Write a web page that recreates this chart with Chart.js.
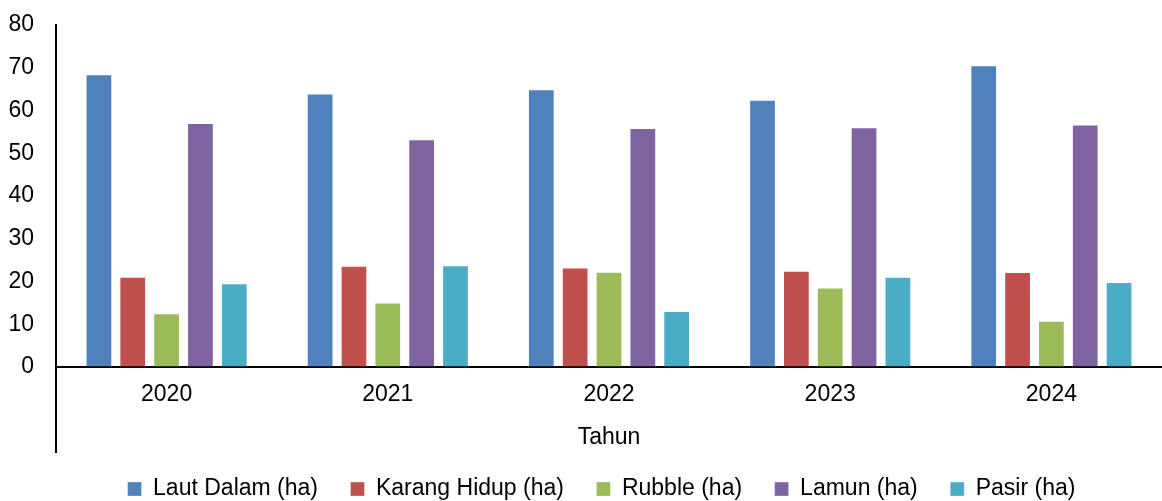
<!DOCTYPE html>
<html lang="id">
  <head>
    <meta charset="UTF-8" />
    <title>Tutupan Habitat</title>
    <style>
      html, body { margin: 0; padding: 0; background: #fff; overflow: hidden; }
      .container { width: 1162px; height: 501px; }
    </style>
  </head>
  <body>
    <div class="container">
      <canvas id="myChart"></canvas>
    </div>

    <script src="https://cdn.jsdelivr.net/npm/chart.js"></script>

    <script>
      // data
      const years = ["2020", "2021", "2022", "2023", "2024"];
      const lautDalam = [68.5, 64.0, 65.0, 62.5, 70.6];
      const karangHidup = [21.1, 23.7, 23.3, 22.5, 22.2];
      const rubble = [12.6, 15.1, 22.3, 18.6, 10.8];
      const lamun = [57.1, 53.3, 55.9, 56.1, 56.7];
      const pasir = [19.6, 23.8, 13.1, 21.1, 19.9];
      const yTicks = [0, 10, 20, 30, 40, 50, 60, 70, 80];

      const FONT = "'Liberation Sans', Arial, sans-serif";
      Chart.defaults.font.family = FONT;
      Chart.defaults.font.size = 23;
      Chart.defaults.color = "#000";

      // vertical axis line continues down past the category labels
      const axisExtension = {
        id: "axisExtension",
        afterLayout(chart) {
          // legend sits a bit right of page centre in the original
          if (chart.legend) {
            chart.legend.left += 32;
          }
        },
        afterDraw(chart) {
          const { ctx, chartArea: { left, bottom } } = chart;
          ctx.save();
          ctx.strokeStyle = "#000";
          ctx.lineWidth = 2;
          ctx.beginPath();
          ctx.moveTo(left, bottom);
          ctx.lineTo(left, bottom + 86);
          ctx.stroke();
          ctx.restore();
        },
      };

      function series(label, data, color) {
        return {
          label,
          data,
          backgroundColor: color,
          borderColor: "rgba(255,255,255,0.35)",
          borderWidth: 1,
          categoryPercentage: 0.765,
          barPercentage: 0.79,
        };
      }

      const ctx = document.getElementById("myChart").getContext("2d");
      new Chart(ctx, {
        type: "bar",
        data: {
          labels: years,
          datasets: [
            series("Laut Dalam (ha)", lautDalam, "#4F81BD"),
            series("Karang Hidup (ha)", karangHidup, "#C0504D"),
            series("Rubble (ha)", rubble, "#9BBB59"),
            series("Lamun (ha)", lamun, "#8064A2"),
            series("Pasir (ha)", pasir, "#4BACC6"),
          ],
        },
        options: {
          responsive: true,
          maintainAspectRatio: false,
          animation: false,
          layout: { padding: { top: 25, right: -9, bottom: -9.5, left: 0 } },
          scales: {
            x: {
              grid: { display: false, drawTicks: false },
              border: { display: true, color: "#000", width: 2 },
              ticks: { padding: 14, font: { size: 23 } },
              title: {
                display: true,
                text: "Tahun",
                font: { size: 23 },
                padding: { top: 0, bottom: -6.8 },
              },
              afterFit(scale) {
                scale.height = 78;
              },
            },
            y: {
              min: 0,
              max: 80,
              afterBuildTicks(scale) {
                scale.ticks = yTicks.map((v) => ({ value: v }));
              },
              // invisible tick marks give the gap between labels and axis
              grid: {
                drawOnChartArea: false,
                drawTicks: true,
                tickLength: 22,
                color: "transparent",
              },
              border: { display: true, color: "#000", width: 2 },
              ticks: { padding: 0, font: { size: 23 } },
              afterFit(scale) {
                scale.width = 56;
              },
            },
          },
          plugins: {
            legend: {
              position: "bottom",
              labels: {
                boxWidth: 14,
                boxHeight: 14,
                padding: 32.5,
                font: { size: 23 },
                color: "#000",
              },
            },
            tooltip: { enabled: true },
          },
        },
        plugins: [axisExtension],
      });
    </script>
  </body>
</html>
